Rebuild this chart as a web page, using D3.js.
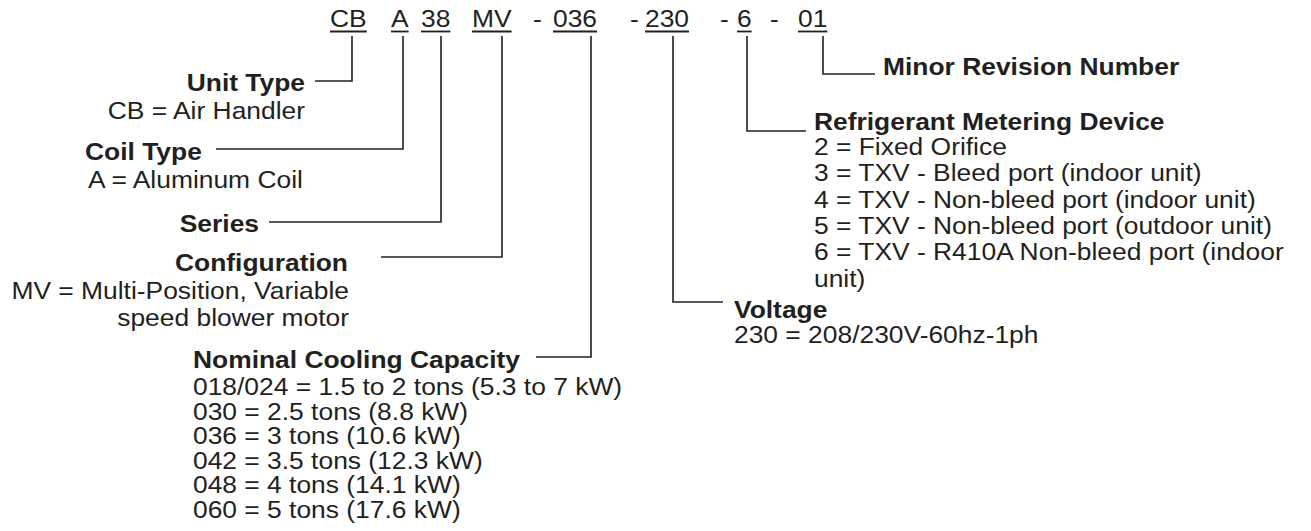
<!DOCTYPE html>
<html><head><meta charset="utf-8">
<script src="https://cdn.jsdelivr.net/npm/d3@7"></script>
<style>html,body{margin:0;padding:0;background:#fff;} svg{display:block;}</style>
</head><body>
<script>
// ---- data ----
const codeParts = ["CB","A","38","MV","-","036","-","230","-","6","-","01"];
const codeUnderlined = [1,1,1,1,0,1,0,1,0,1,0,1];
const fieldCodes = ["CB","A","38","MV","036","230","6","01"];
const fieldTitles = ["Unit Type","Coil Type","Series","Configuration","Nominal Cooling Capacity","Voltage","Refrigerant Metering Device","Minor Revision Number"];
const fieldDescriptions = [
  ["CB = Air Handler"],
  ["A = Aluminum Coil"],
  [],
  ["MV = Multi-Position, Variable","speed blower motor"],
  ["018/024 = 1.5 to 2 tons (5.3 to 7 kW)","030 = 2.5 tons (8.8 kW)","036 = 3 tons (10.6 kW)","042 = 3.5 tons (12.3 kW)","048 = 4 tons (14.1 kW)","060 = 5 tons (17.6 kW)"],
  ["230 = 208/230V-60hz-1ph"],
  ["2 = Fixed Orifice","3 = TXV - Bleed port (indoor unit)","4 = TXV - Non-bleed port (indoor unit)","5 = TXV - Non-bleed port (outdoor unit)","6 = TXV - R410A Non-bleed port (indoor","unit)"],
  []
];

// ---- layout (positions only) ----
const W = 1311, H = 531;
const FONT = 24, STRETCH = 1.1, INK = "#231f20";
const codeX = [330,391,421,472,533,553,630,645,720,737,770,798];
const codeBaseline = 27, underlineY = 31.5, leaderTop = 36;
const layout = [
  {lx:352, ey:81,  hx:315, anchor:"end",   tx:305, dx:305, ty:91,  dy:119, step:28},
  {lx:403, ey:149, hx:216, anchor:"start", tx:85,  dx:88,  ty:160, dy:188, step:28},
  {lx:441, ey:222, hx:269, anchor:"end",   tx:259, dx:259, ty:232, dy:260, step:28},
  {lx:502, ey:257, hx:381, anchor:"end",   tx:348, dx:349, ty:271, dy:299, step:27},
  {lx:591, ey:357, hx:536, anchor:"start", tx:193, dx:193, ty:368, dy:395, step:24.6},
  {lx:673, ey:302, hx:723, anchor:"start", tx:734, dx:734, ty:318, dy:343, step:26},
  {lx:747, ey:131, hx:806, anchor:"start", tx:814, dx:814, ty:130, dy:155, step:26.3},
  {lx:823, ey:74,  hx:875, anchor:"start", tx:883, dx:883, ty:75,  dy:100, step:26}
];

const svg = d3.select("body").append("svg").attr("width", W).attr("height", H)
  .style("font-family", "'Liberation Sans', Arial, Helvetica, sans-serif");

function addText(parent, str, x, y, anchor, bold) {
  const g = parent.append("g").attr("transform", `translate(${x},${y}) scale(${STRETCH},1)`);
  const t = g.append("text").attr("x", 0).attr("y", 0)
    .attr("text-anchor", anchor)
    .attr("font-size", FONT)
    .attr("font-weight", bold ? "bold" : "normal")
    .attr("fill", INK)
    .text(str);
  return t;
}

// code line
const codeG = svg.append("g");
codeParts.forEach((p, i) => {
  const t = addText(codeG, p, codeX[i], codeBaseline, "start", false);
  if (codeUnderlined[i]) {
    const w = t.node().getComputedTextLength() * STRETCH;
    codeG.append("line")
      .attr("x1", codeX[i]).attr("x2", codeX[i] + w)
      .attr("y1", underlineY).attr("y2", underlineY)
      .attr("stroke", INK).attr("stroke-width", 1.8);
  }
});

// fields
const line = d3.line();
fieldTitles.forEach((title, i) => {
  const L = layout[i];
  svg.append("path")
    .attr("d", line([[L.lx, leaderTop], [L.lx, L.ey], [L.hx, L.ey]]))
    .attr("fill", "none").attr("stroke", INK).attr("stroke-width", 1.6);
  addText(svg, title, L.tx, L.ty, L.anchor, true);
  fieldDescriptions[i].forEach((d, j) => {
    addText(svg, d, L.dx, L.dy + j * L.step, L.anchor, false);
  });
});
</script>
</body></html>
